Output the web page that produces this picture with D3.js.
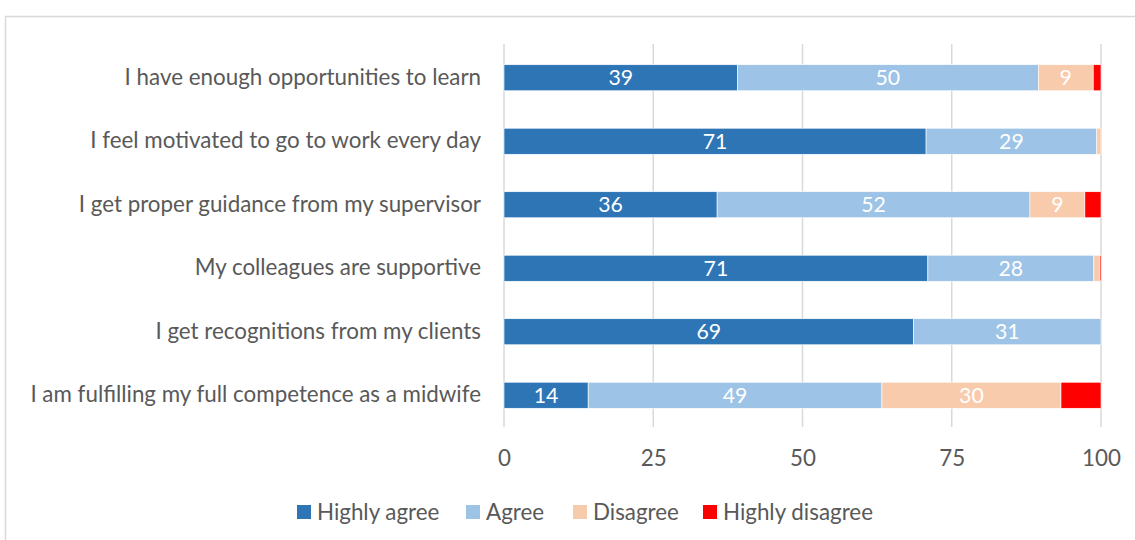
<!DOCTYPE html>
<html>
<head>
<meta charset="utf-8">
<script src="https://cdn.jsdelivr.net/npm/d3@7"></script>
<style>
  html, body { margin: 0; padding: 0; background: #fff; }
  svg { display: block; font-family: Lato, "Open Sans", sans-serif; }
</style>
</head>
<body>
<svg id="chart" width="1135" height="540"></svg>
<script>
// Survey statements (top to bottom) and the share of answers per level, in %
const statements = [
  "I have enough opportunities to learn",
  "I feel motivated to go to work every day",
  "I get proper guidance from my supervisor",
  "My colleagues are supportive",
  "I get recognitions from my clients",
  "I am fulfilling my full competence as a midwife"
];
const levels = ["Highly agree", "Agree", "Disagree", "Highly disagree"];
const highlyAgree    = [39.1, 70.7, 35.7, 71.0, 68.6, 14.1];
const agree          = [50.4, 28.6, 52.4, 27.8, 31.4, 49.2];
const disagree       = [9.2,  0.7,  9.2,  1.0,  0,    30.0];
const highlyDisagree = [1.3,  0,    2.7,  0.2,  0,    6.7];
const xTicks = [0, 25, 50, 75, 100];
const colours = ["#2E75B6", "#9DC3E6", "#F8CBAD", "#FF0000"];
const labelledLevels = ["Highly agree", "Agree", "Disagree"];

const rows = statements.map((s, i) => ({
  statement: s,
  "Highly agree": highlyAgree[i],
  "Agree": agree[i],
  "Disagree": disagree[i],
  "Highly disagree": highlyDisagree[i]
}));

const svg = d3.select("#chart");
const textGrey = "#595959";
const gridGrey = "#d9d9d9";

// outer chart frame
svg.append("rect")
  .attr("x", 5.5).attr("y", 16.5)
  .attr("width", 1140).attr("height", 540)
  .attr("fill", "none").attr("stroke", gridGrey).attr("stroke-width", 1.5);

const x = d3.scaleLinear().domain([0, 100]).range([504, 1101]);
const y = d3.scaleBand().domain(statements).range([46, 427])
  .paddingInner(0.59).paddingOuter(0.295);

// vertical gridlines
svg.append("g").selectAll("line").data(xTicks).join("line")
  .attr("x1", d => x(d)).attr("x2", d => x(d))
  .attr("y1", 44).attr("y2", 427)
  .attr("stroke", gridGrey).attr("stroke-width", 1.5);

// category labels; size chosen so the longest one spans ~451px
const yAxis = d3.axisLeft(y).tickSize(0).tickPadding(0);
const gy = svg.append("g").attr("transform", "translate(481,0)").call(yAxis);
gy.select(".domain").remove();
gy.selectAll("text")
  .attr("fill", textGrey).attr("font-size", 20)
  .attr("font-family", "Lato, sans-serif");
const longest = d3.max(gy.selectAll("text").nodes(), n => n.getComputedTextLength());
const fontSize = 20 * 451 / longest;
gy.selectAll("text").attr("font-size", fontSize);

// x axis tick labels
const xAxis = d3.axisBottom(x).tickValues(xTicks).tickSize(0).tickPadding(0);
const gx = svg.append("g").attr("transform", "translate(0,450)").call(xAxis);
gx.select(".domain").remove();
gx.selectAll("text")
  .attr("fill", textGrey).attr("font-size", fontSize).attr("dy", "0.71em")
  .attr("font-family", "Lato, sans-serif");

// stacked bars
const stack = d3.stack().keys(levels);
const series = stack(rows);
const layer = svg.append("g").selectAll("g").data(series).join("g")
  .attr("fill", (d, i) => colours[i]);

layer.selectAll("rect").data(d => d).join("rect")
  .attr("x", d => x(d[0]))
  .attr("y", d => y(d.data.statement))
  .attr("width", d => x(d[1]) - x(d[0]))
  .attr("height", y.bandwidth())
  .attr("stroke", "#fff").attr("stroke-width", 0.6);

// value labels
const fmt = d3.format(".0f");
layer.filter(d => labelledLevels.includes(d.key))
  .selectAll("text").data(d => d.filter(p => p[1] - p[0] >= 5)).join("text")
  .attr("x", d => x((d[0] + d[1]) / 2))
  .attr("y", d => y(d.data.statement) + y.bandwidth() / 2)
  .attr("dy", "0.36em")
  .attr("text-anchor", "middle")
  .attr("fill", "#fff").attr("font-size", fontSize * 0.95)
  .text(d => fmt(d[1] - d[0]));

// legend
const legendX = [297, 466, 573, 703];
const legend = svg.append("g").selectAll("g").data(levels).join("g")
  .attr("transform", (d, i) => `translate(${legendX[i]},512)`);
legend.append("rect")
  .attr("x", 0).attr("y", -7).attr("width", 14).attr("height", 14)
  .attr("fill", (d, i) => colours[i]);
legend.append("text")
  .attr("x", 20).attr("dy", "0.36em")
  .attr("fill", textGrey).attr("font-size", fontSize)
  .text(d => d);
</script>
</body>
</html>
